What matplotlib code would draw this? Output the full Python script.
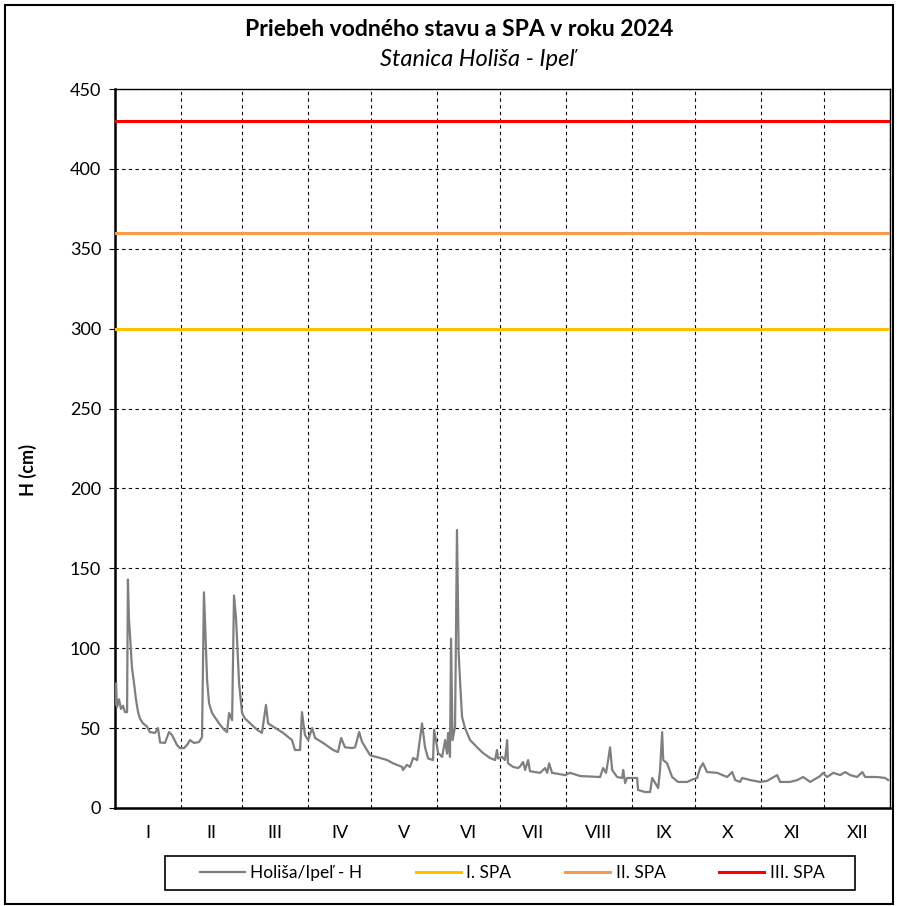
import numpy as np
import matplotlib
matplotlib.use('Agg')
import matplotlib.pyplot as plt
from matplotlib.patches import Rectangle

plt.rcParams['font.family'] = ['Lato', 'DejaVu Sans']

# water level H (cm), day of year 2024 (0 = 1 Jan)
days = [0.0, 0.5, 0.9, 1.9, 2.8, 3.8, 4.7, 5.7, 6.1, 6.6, 7.1, 8.0, 9.0, 9.9, 10.9, 11.8,
        13.2, 15.1, 16.5, 18.9, 20.3, 21.3, 23.6, 25.5, 26.9, 29.3, 30.7, 32.6, 34.0, 35.4,
        37.3, 39.7, 41.1, 42.0, 43.5, 44.4, 45.8, 49.1, 51.5, 52.9, 53.9, 55.3, 56.2, 57.2,
        58.6, 60.0, 61.4, 63.8, 67.1, 69.4, 71.3, 72.3, 74.6, 79.4, 83.6, 85.0, 87.4, 88.3,
        89.7, 91.2, 93.1, 94.5, 98.3, 103.0, 105.3, 106.8, 108.6, 112.0, 113.4, 115.3, 116.7,
        120.5, 125.2, 128.5, 131.3, 135.6, 136.0, 137.9, 139.3, 140.8, 142.7, 145.0, 146.4,
        147.9, 150.2, 150.7, 152.1, 152.6, 154.5, 155.9, 156.8, 157.3, 158.2, 158.7, 159.4,
        160.6, 161.5, 162.3, 163.0, 163.9, 165.3, 167.7, 171.0, 173.8, 177.1, 179.5, 180.4,
        180.9, 182.8, 184.2, 185.2, 185.6, 188.0, 190.4, 191.3, 192.7, 193.7, 195.1, 196.0,
        200.8, 203.1, 204.1, 205.0, 206.4, 212.6, 214.9, 219.7, 229.1, 230.5, 231.9, 232.9,
        233.8, 234.8, 237.1, 239.5, 240.0, 240.9, 241.8, 246.6, 247.0, 250.4, 252.7, 253.7,
        255.1, 256.5, 257.4, 258.4, 258.9, 260.7, 263.1, 265.9, 270.2, 273.0, 274.9, 276.3,
        277.7, 279.6, 284.4, 289.1, 291.5, 292.9, 295.2, 296.2, 300.0, 304.7, 308.0, 312.7,
        314.1, 318.8, 322.2, 325.0, 328.3, 333.0, 334.4, 336.3, 339.2, 342.5, 344.9, 347.2,
        350.5, 352.9, 354.3, 359.9, 363.7, 365.1]
level = [65, 78, 63, 68, 62, 64, 60, 60, 143, 118, 108, 88, 78, 68, 60, 56,
         53, 51, 47.5, 47, 50, 41, 40.7, 47.5, 45.7, 39.4, 37.5, 37.5, 39.4, 42.5,
         40.7, 41.3, 44.4, 135, 80, 65.7, 59.5, 53, 49, 47.5, 59.5, 55, 133, 118,
         78, 59.5, 56, 53, 49, 47, 64.5, 53, 51, 47, 42.5, 36.3, 36.3, 60,
         45.7, 42.5, 50, 43.8, 40.7, 36.3, 35, 43.8, 38, 37.5, 38, 47.5, 41.3,
         33, 31.3, 30, 28, 25.7, 23.8, 27, 25.7, 31.3, 30, 53, 38,
         31, 30, 49, 38, 34.4, 32, 42.5, 34, 47, 32, 106, 42.5,
         51, 174, 97, 78, 57, 50, 42.5, 38, 34.4, 31.3, 30, 36.3,
         31, 32, 30, 42.5, 28, 25.7, 25, 26, 28.8, 23.8, 30, 23,
         22, 25, 22, 28, 22, 20.6, 22, 20, 19.4, 25, 22, 30,
         38, 23.8, 19.4, 18.8, 23.8, 15.6, 18.8, 18.8, 11.3, 10, 10, 18.8,
         15.6, 12.5, 23.8, 47.5, 30, 28, 19.4, 16.3, 16.3, 18, 18.8, 25,
         28, 22.5, 22, 19.4, 22.5, 17.5, 16.3, 18.8, 17.5, 16.3, 17, 20.6,
         16.3, 16.3, 17.5, 19.4, 16.3, 20, 22, 19.4, 22, 20.6, 22.5, 20.6,
         19.4, 22.5, 19.4, 19.4, 18.8, 17.5]

spa_levels = [300, 360, 430]
spa_names = ['I. SPA', 'II. SPA', 'III. SPA']
spa_colors = ['#FFC000', '#F79A4A', '#FF0000']

months = ['I', 'II', 'III', 'IV', 'V', 'VI', 'VII', 'VIII', 'IX', 'X', 'XI', 'XII']
month_len = [31, 29, 31, 30, 31, 30, 31, 31, 30, 31, 30, 31]

bounds = np.concatenate([[0], np.cumsum(month_len)])
mids = (bounds[:-1] + bounds[1:]) / 2

fig = plt.figure(figsize=(8.97, 9.06), dpi=100)
ax = fig.add_axes([115/897, 1-808/906, 775/897, 719/906])

ax.plot(days, level, color='#7F7F7F', lw=1.6, label='Holiša/Ipeľ - H', zorder=4)
for lv, nm, c in zip(spa_levels, spa_names, spa_colors):
    ax.axhline(lv, color=c, lw=2.2, label=nm, zorder=3)

ax.set_xlim(0, bounds[-1])
ax.set_ylim(0, 450)
ax.set_yticks(np.arange(0, 451, 50))
ax.set_xticks(bounds)
ax.set_xticklabels([])
ax.set_xticks(mids, minor=True)
ax.set_xticklabels(months, minor=True)
ax.tick_params(axis='x', which='both', length=0, labelsize=13, pad=12)
ax.tick_params(axis='y', length=4, labelsize=13, pad=6)

ax.grid(True, which='major', color='black', ls=(0, (3, 3)), lw=0.8)
for s in ax.spines.values():
    s.set_linewidth(1.0)
ax.spines['bottom'].set_linewidth(1.8)
ax.spines['left'].set_linewidth(1.8)

ax.set_ylabel('H (cm)', fontsize=13, fontweight='bold')
ax.yaxis.set_label_coords(-0.1, 0.47)

fig.text(459/897, 1-29/906, 'Priebeh vodného stavu a SPA v roku 2024',
         ha='center', va='center', fontsize=16.5, fontweight='bold')
fig.text(477/897, 1-60/906, 'Stanica Holiša - Ipeľ',
         ha='center', va='center', fontsize=17, style='italic')

fig.legend(loc='center', bbox_to_anchor=(512/897, 1-873/906), ncol=4, frameon=False,
           fontsize=12.5, handlelength=2.6, columnspacing=3.1, handletextpad=0.3)
fig.patches.append(Rectangle((165/897, 1-890/906), 690/897, 34/906, transform=fig.transFigure,
                             fill=False, ec='black', lw=1.2))
fig.patches.append(Rectangle((5/897, 2/906), 888/897, 899/906, transform=fig.transFigure,
                             fill=False, ec='black', lw=1.5))

plt.savefig('out.png', dpi=100)
